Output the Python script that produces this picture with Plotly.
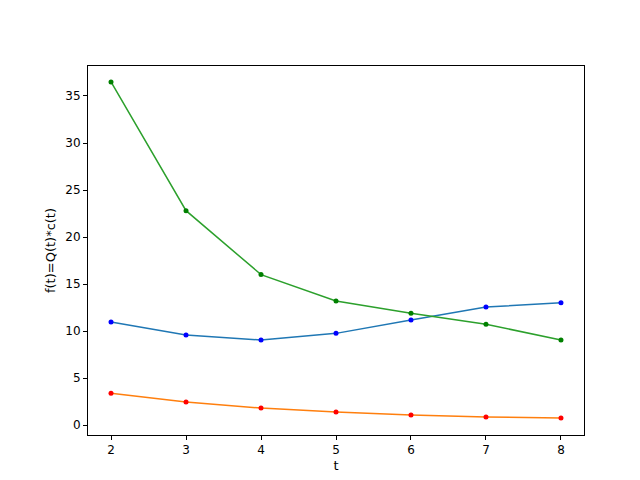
import plotly.graph_objects as go

t = [2, 3, 4, 5, 6, 7, 8]
blue = [10.96, 9.57, 9.04, 9.75, 11.17, 12.55, 13.0]
orange = [3.38, 2.45, 1.8, 1.38, 1.06, 0.86, 0.74]
green = [36.5, 22.8, 16.0, 13.19, 11.9, 10.72, 9.04]

fig = go.Figure()
for ys, lc, mc in [(blue, "#1f77b4", "blue"), (orange, "#ff7f0e", "red"), (green, "#2ca02c", "green")]:
    fig.add_trace(go.Scatter(x=t, y=ys, mode="lines", line=dict(color=lc, width=1.5), showlegend=False))
    fig.add_trace(go.Scatter(x=t, y=ys, mode="markers", marker=dict(color=mc, size=5), showlegend=False))

ax = dict(showgrid=False, zeroline=False, showline=True, mirror=True, linecolor="black", linewidth=1,
          automargin=False,
          ticks="outside", ticklen=4, tickcolor="black", tickfont=dict(family="DejaVu Sans", size=12, color="black"))
fig.update_layout(
    width=640, height=480, paper_bgcolor="white", plot_bgcolor="white",
    margin=dict(l=80, r=64, t=58, b=53),
    xaxis=dict(ax, range=[1.693, 8.307], tickvals=t, title=dict(text="t", font=dict(family="DejaVu Sans", size=13, color="black"), standoff=4)),
    yaxis=dict(ax, range=[-1.06, 38.19], tickvals=[0, 5, 10, 15, 20, 25, 30, 35], title=dict(text="f(t)=Q(t)*c(t)", font=dict(family="DejaVu Sans", size=13, color="black"), standoff=6)),
)
fig.write_html("out.html")
